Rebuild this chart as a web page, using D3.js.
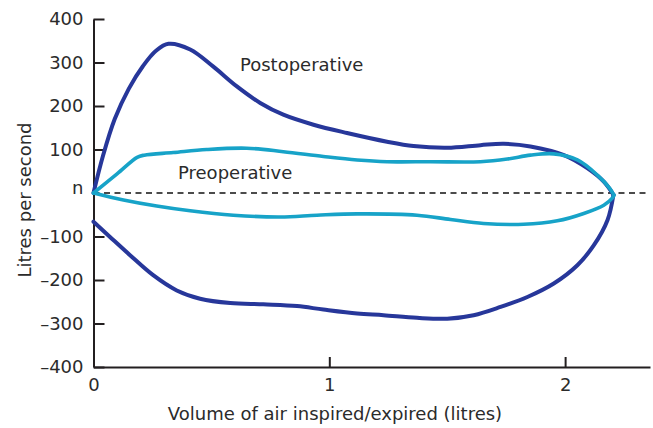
<!DOCTYPE html>
<html>
<head>
<meta charset="utf-8">
<script src="https://cdn.jsdelivr.net/npm/d3@7/dist/d3.min.js"></script>
<style>
  html, body { margin: 0; padding: 0; background: #fff; }
  svg { display: block; }
  text { font-family: "DejaVu Sans", sans-serif; fill: #2b2b2b; }
</style>
</head>
<body>
<svg id="chart" width="653" height="428"></svg>
<script>
// ---- Data (volume in litres, flow in litres per second) ----
const xTicks = [0, 1, 2];
const yTicks = [-400, -300, -200, -100, 0, 100, 200, 300, 400];
const yTickLabels = ["\u2013400", "\u2013300", "\u2013200", "\u2013100", "n", "100", "200", "300", "400"];

const postopExpiration = [
  [0, 0], [0.04, 85], [0.09, 170], [0.15, 240], [0.21, 292],
  [0.265, 327], [0.318, 343], [0.41, 330], [0.507, 291], [0.608, 245],
  [0.707, 207], [0.805, 180], [0.933, 157], [1.075, 138], [1.245, 118],
  [1.357, 108], [1.5, 104], [1.641, 110], [1.74, 113], [1.853, 107],
  [1.995, 87], [2.094, 57], [2.164, 26], [2.205, -4]
];
const postopInspiration = [
  [0, -66], [0.07, -101], [0.155, -143], [0.253, -189], [0.353, -224],
  [0.452, -243], [0.58, -253], [0.72, -256], [0.863, -260], [0.975, -268],
  [1.118, -277], [1.23, -281], [1.372, -287], [1.5, -289], [1.612, -281],
  [1.726, -262], [1.84, -239], [1.952, -208], [2.052, -166], [2.122, -120],
  [2.18, -62], [2.205, -4]
];
const preopExpiration = [
  [0, 0], [0.1, 44], [0.185, 82], [0.215, 87], [0.338, 93], [0.48, 100], [0.65, 103],
  [0.805, 95], [0.975, 84], [1.118, 76], [1.245, 72], [1.43, 72], [1.641, 72],
  [1.755, 78], [1.853, 87], [1.952, 90], [2.052, 76], [2.137, 41], [2.19, 10],
  [2.207, -5]
];
const preopInspiration = [
  [0, 0], [0.127, -16], [0.268, -30], [0.41, -41], [0.593, -51], [0.792, -55],
  [0.948, -51], [1.118, -48], [1.372, -51], [1.514, -61], [1.654, -70],
  [1.824, -72], [1.967, -64], [2.079, -47], [2.164, -28], [2.2, -12], [2.207, -5]
];

const series = [
  { name: "Postoperative", parts: [postopExpiration, postopInspiration], color: "#27379a", width: 4 },
  { name: "Preoperative", parts: [preopExpiration, preopInspiration], color: "#17a3c8", width: 3.6 }
];

// ---- Chart ----
const svg = d3.select("#chart");
const x = d3.scaleLinear().domain([0, 2.36]).range([93.5, 650]);
const y = d3.scaleLinear().domain([-400, 400]).range([367, 19]);
const axisColor = "#231f20";

// zero reference line (dashed)
svg.append("line")
  .attr("x1", x(0)).attr("x2", x(2.36))
  .attr("y1", y(0)).attr("y2", y(0))
  .attr("stroke", "#111").attr("stroke-width", 1.6)
  .attr("stroke-dasharray", "6,4.5");

// Y axis
const yAxis = svg.append("g")
  .attr("transform", `translate(${x(0)},0)`)
  .call(d3.axisLeft(y).tickValues(yTicks)
    .tickFormat((d, i) => yTickLabels[i])
    .tickSize(-11).tickSizeOuter(0).tickPadding(10));
yAxis.select(".domain").attr("stroke", axisColor).attr("stroke-width", 2);
yAxis.selectAll(".tick line").attr("stroke", axisColor).attr("stroke-width", 2)
  .filter(d => d === 0).remove();
yAxis.selectAll(".tick text")
  .style("font-family", '"DejaVu Sans", sans-serif')
  .style("font-size", "18px").attr("fill", "#262626")
  .filter(d => d === 0).attr("dy", "0.05em");

// X axis
const xAxis = svg.append("g")
  .attr("transform", `translate(0,${y(-400)})`)
  .call(d3.axisBottom(x).tickValues(xTicks).tickFormat(d3.format("d"))
    .tickSize(-10).tickSizeOuter(0).tickPadding(11));
xAxis.select(".domain").attr("stroke", axisColor).attr("stroke-width", 2);
xAxis.selectAll(".tick line").attr("stroke", axisColor).attr("stroke-width", 2);
xAxis.selectAll(".tick text")
  .style("font-family", '"DejaVu Sans", sans-serif')
  .style("font-size", "18px").attr("fill", "#262626");

// curves
const line = d3.line().x(d => x(d[0])).y(d => y(d[1])).curve(d3.curveCatmullRom.alpha(0.5));
series.forEach(s => {
  s.parts.forEach(p => {
    svg.append("path")
      .datum(p)
      .attr("d", line)
      .attr("fill", "none")
      .attr("stroke", s.color)
      .attr("stroke-width", s.width)
      .attr("stroke-linejoin", "round")
      .attr("stroke-linecap", "round");
  });
});

// annotations
svg.append("text").attr("x", 240).attr("y", 71)
  .style("font-size", "18px").text("Postoperative");
svg.append("text").attr("x", 178).attr("y", 179)
  .style("font-size", "18px").text("Preoperative");

// axis titles
svg.append("text")
  .attr("x", 335).attr("y", 420)
  .attr("text-anchor", "middle")
  .style("font-size", "18px")
  .text("Volume of air inspired/expired (litres)");
svg.append("text")
  .attr("transform", "translate(31,200) rotate(-90)")
  .attr("text-anchor", "middle")
  .style("font-size", "18px")
  .text("Litres per second");
</script>
</body>
</html>
